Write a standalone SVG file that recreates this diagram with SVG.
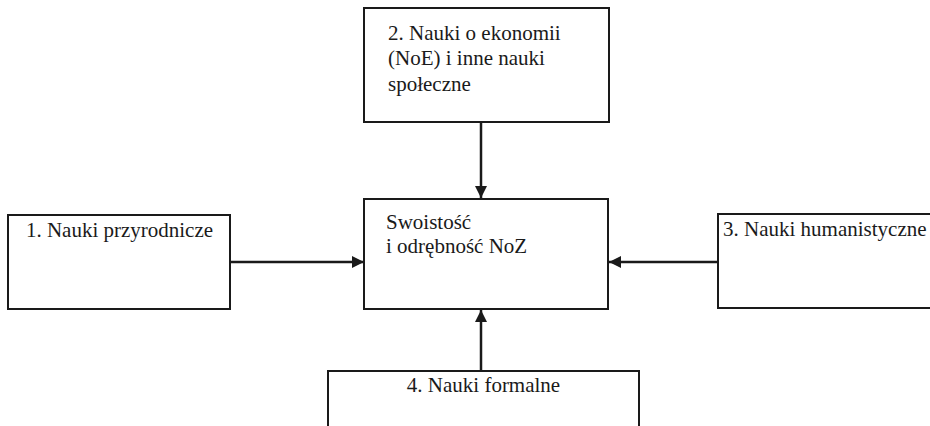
<svg xmlns="http://www.w3.org/2000/svg" width="930" height="426" viewBox="0 0 930 426">
<defs>
<style>
.box{fill:#fff;stroke:#1a1a1a;stroke-width:2}
.c{stroke:#1a1a1a;stroke-width:2.5;fill:none}
</style>
<marker id="ah" viewBox="0 0 12 12" refX="12" refY="6" markerWidth="12" markerHeight="12" markerUnits="userSpaceOnUse" orient="auto">
<path d="M0,0 L12,6 L0,12 Z" fill="#1a1a1a"/>
</marker>
</defs>
<rect width="930" height="426" fill="#fff"/>
<g id="connectors">
<line class="c" x1="481" y1="122" x2="481" y2="198" marker-end="url(#ah)"/>
<line class="c" x1="231" y1="262" x2="364" y2="262" marker-end="url(#ah)"/>
<line class="c" x1="718" y1="262" x2="609" y2="262" marker-end="url(#ah)"/>
<line class="c" x1="481" y1="371" x2="481" y2="310" marker-end="url(#ah)"/>
</g>
<g font-family="Liberation Serif, DejaVu Serif, serif" font-size="21" fill="#1a1a1a">
<g id="center">
<rect class="box" x="364" y="199" width="244" height="110"/>
<text x="386" y="229">Swoistość</text>
<text x="386" y="253">i odrębność NoZ</text>
</g>
<g id="n2">
<rect class="box" x="364" y="8" width="245" height="114"/>
<text x="388" y="39.5">2. Nauki o ekonomii</text>
<text x="388" y="65">(NoE) i inne nauki</text>
<text x="388" y="90.5">społeczne</text>
</g>
<g id="n1">
<rect class="box" x="8" y="215" width="222" height="94"/>
<text x="119.5" y="236.5" text-anchor="middle">1. Nauki przyrodnicze</text>
</g>
<g id="n3">
<rect class="box" x="718" y="214" width="230" height="94"/>
<text x="723" y="236">3. Nauki humanistyczne</text>
</g>
<g id="n4">
<rect class="box" x="328" y="371" width="311" height="80"/>
<text x="483.5" y="392" text-anchor="middle">4. Nauki formalne</text>
</g>
</g>
</svg>
